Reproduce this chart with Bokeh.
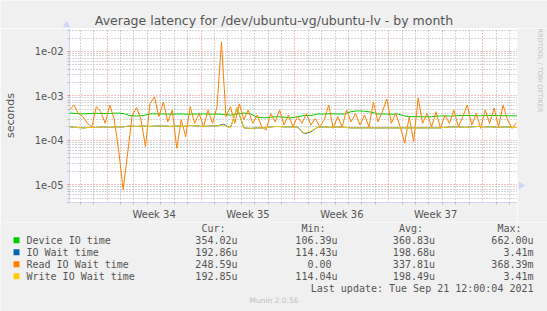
from math import pi
from bokeh.plotting import figure
from bokeh.models import FixedTicker, Range1d
from bokeh.layouts import column, row
from bokeh.core.properties import value
from bokeh.embed import file_html
from bokeh.resources import INLINE

# ---------------- data ----------------
# time axis in days, relative to Monday 2021-08-23 (start of week 34)
T_START = -2.81
T_END = 30.6
FAST_STEP = 1 / 3     # read IO wait samples (8 h)
SLOW_STEP = 0.5       # other series (12 h)

read_io = [4.8e-4, 6.2e-4, 4.0e-4, 3.4e-4, 2.4e-4, 2.0e-4, 5.7e-4, 4.4e-4, 2.4e-4, 6.2e-4,
           3.0e-4, 6.0e-5, 7.8e-6, 5.0e-5, 3.5e-4, 5.5e-4, 2.9e-4, 7.2e-5, 6.6e-4, 9.5e-4,
           3.4e-4, 7.3e-4, 2.6e-4, 4.8e-4, 6.6e-5, 2.9e-4, 1.2e-4, 5.7e-4, 2.4e-4, 4.0e-4,
           2.0e-4, 4.8e-4, 2.4e-4, 5.7e-4, 1.6e-2, 3.4e-4, 5.7e-4, 2.4e-4, 6.6e-4, 2.9e-4,
           4.8e-4, 2.4e-4, 3.7e-4, 2.0e-4, 1.7e-4, 4.0e-4, 2.6e-4, 4.8e-4, 2.2e-4, 3.7e-4,
           2.0e-4, 3.4e-4, 2.4e-4, 4.0e-4, 2.2e-4, 3.1e-4, 2.0e-4, 2.9e-4, 6.2e-4, 1.85e-4,
           3.4e-4, 2.0e-4, 4.8e-4, 2.6e-4, 4.0e-4, 2.2e-4, 3.7e-4, 2.0e-4, 7.3e-4, 2.6e-4,
           4.4e-4, 8.5e-4, 2.4e-4, 4.0e-4, 2.0e-4, 8.6e-5, 3.4e-4, 9.4e-5, 9.0e-4, 2.4e-4,
           4.0e-4, 2.0e-4, 4.4e-4, 1.85e-4, 3.7e-4, 2.4e-4, 4.8e-4, 2.0e-4, 3.4e-4, 6.2e-4,
           2.2e-4, 4.0e-4, 1.85e-4, 4.8e-4, 2.4e-4, 5.3e-4, 2.0e-4, 6.2e-4, 2.9e-4, 1.85e-4,
           2.5e-4]

device_io = [4.1e-4, 4.0e-4, 3.9e-4, 4.0e-4, 4.05e-4, 4.0e-4, 4.0e-4, 4.1e-4, 4.0e-4, 3.6e-4,
             3.5e-4, 3.6e-4, 3.9e-4, 3.95e-4, 3.9e-4, 3.85e-4, 3.9e-4, 3.9e-4, 3.85e-4, 3.9e-4,
             3.9e-4, 3.85e-4, 3.9e-4, 3.8e-4, 3.7e-4, 3.9e-4, 4.1e-4, 3.9e-4, 3.3e-4, 3.2e-4,
             3.3e-4, 3.4e-4, 3.3e-4, 3.2e-4, 3.4e-4, 3.6e-4, 3.6e-4, 3.9e-4, 3.9e-4, 3.95e-4,
             3.9e-4, 3.9e-4, 4.4e-4, 4.6e-4, 4.5e-4, 4.3e-4, 3.9e-4, 3.9e-4, 3.85e-4, 3.9e-4,
             3.5e-4, 3.4e-4, 3.4e-4, 3.35e-4, 3.4e-4, 3.5e-4, 3.55e-4, 3.5e-4, 3.6e-4, 3.6e-4,
             3.6e-4, 3.55e-4, 3.6e-4, 3.6e-4, 3.6e-4, 3.55e-4, 3.55e-4, 3.54e-4]

io_wait = [2.0e-4, 1.95e-4, 1.9e-4, 1.95e-4, 1.95e-4, 2.0e-4, 1.95e-4, 2.0e-4, 2.0e-4, 2.1e-4,
           2.05e-4, 2.1e-4, 2.05e-4, 2.1e-4, 2.1e-4, 2.05e-4, 2.1e-4, 2.05e-4, 2.15e-4, 2.1e-4,
           2.05e-4, 2.1e-4, 2.1e-4, 2.3e-4, 1.9e-4, 5.4e-4, 1.9e-4, 1.85e-4, 1.9e-4, 1.9e-4,
           2.0e-4, 2.05e-4, 2.0e-4, 2.0e-4, 2.0e-4, 1.4e-4, 1.55e-4, 1.95e-4, 2.0e-4, 1.95e-4,
           2.0e-4, 1.95e-4, 1.9e-4, 1.9e-4, 1.9e-4, 1.9e-4, 1.9e-4, 1.9e-4, 1.9e-4, 1.9e-4,
           1.9e-4, 1.9e-4, 1.9e-4, 1.9e-4, 1.9e-4, 1.9e-4, 1.95e-4, 2.0e-4, 2.0e-4, 1.95e-4,
           2.0e-4, 2.05e-4, 2.0e-4, 2.0e-4, 1.95e-4, 2.0e-4, 1.95e-4, 1.93e-4]

write_io = [2.0e-4, 1.95e-4, 1.9e-4, 1.95e-4, 1.95e-4, 2.0e-4, 1.95e-4, 2.0e-4, 2.0e-4, 2.1e-4,
            2.05e-4, 2.1e-4, 2.05e-4, 2.1e-4, 2.1e-4, 2.05e-4, 2.1e-4, 2.05e-4, 2.15e-4, 2.1e-4,
            2.05e-4, 2.1e-4, 2.1e-4, 2.2e-4, 1.9e-4, 5.5e-4, 1.9e-4, 1.85e-4, 1.9e-4, 1.9e-4,
            2.0e-4, 2.05e-4, 2.0e-4, 2.0e-4, 2.0e-4, 1.45e-4, 1.6e-4, 1.95e-4, 2.0e-4, 1.95e-4,
            2.0e-4, 1.95e-4, 1.9e-4, 1.9e-4, 1.9e-4, 1.9e-4, 1.9e-4, 1.9e-4, 1.9e-4, 1.9e-4,
            1.9e-4, 1.9e-4, 1.9e-4, 1.9e-4, 1.9e-4, 1.9e-4, 1.95e-4, 2.0e-4, 2.0e-4, 1.95e-4,
            2.0e-4, 2.05e-4, 2.0e-4, 2.0e-4, 1.95e-4, 2.0e-4, 1.95e-4, 1.93e-4]

series_names = ["Device IO time", "IO Wait time", "Read IO Wait time", "Write IO Wait time"]
series_colors = ["#00CC00", "#0066B3", "#FF8000", "#FFCC00"]
cur_vals = ["354.02u", "192.86u", "248.59u", "192.85u"]
min_vals = ["106.39u", "114.43u", "0.00", "114.04u"]
avg_vals = ["360.83u", "198.68u", "337.81u", "198.49u"]
max_vals = ["662.00u", "3.41m", "368.39m", "3.41m"]
col_headers = ["Cur:", "Min:", "Avg:", "Max:"]

week_starts = [0, 7, 14, 21, 28]
week_centers = [3.5, 10.5, 17.5, 24.5]
week_labels = ["Week 34", "Week 35", "Week 36", "Week 37"]
day_ticks = [d for d in range(-2, 31) if d % 7 != 0]

y_major = [1e-5, 1e-4, 1e-3, 1e-2]
y_major_labels = ["1e-05", "1e-04", "1e-03", "1e-02"]
y_minor = [m * 10.0 ** e for e in range(-6, -1) for m in range(2, 10)]

title_text = "Average latency for /dev/ubuntu-vg/ubuntu-lv - by month"
unit_text = "seconds"
update_text = "Last update: Tue Sep 21 12:00:04 2021"
brand_text = "RRDTOOL / TOBI OETIKER"
version_text = "Munin 2.0.56"

t_fast = [T_START + i * FAST_STEP for i in range(len(read_io))]
t_slow = [T_START + j * SLOW_STEP for j in range(len(device_io))]

# ---------------- layout (canvas px) ----------------
W, H = 547, 311
FL, FR, FT, FB = 66, 517, 28, 203   # plot frame edges on the page
MID_BOTTOM = 222                    # bottom of the plot strip
FONT = "DejaVu Sans"
MONO = "DejaVu Sans Mono"
TXT = "#555555"
AXIS_C = "#CFD6F8"
BG = "#F0F0F0"
MAJOR_GRID = "#e88080"
MINOR_GRID = "#acacac"


def strip(w, h, x0, x1, y_top, y_bot):
    """A figure whose frame fills it and whose data units are page pixels."""
    f = figure(width=w, height=h, x_range=Range1d(x0, x1), y_range=Range1d(y_bot, y_top),
               x_axis_type=None, y_axis_type=None, output_backend="svg",
               toolbar_location=None, min_border_left=0, min_border_right=0,
               min_border_top=0, min_border_bottom=0)
    f.background_fill_color = BG
    f.border_fill_color = BG
    f.outline_line_color = None
    f.grid.visible = False
    return f


def txt(f, xs, ys, texts, size, font=FONT, color=TXT, align="left", angle=0.0):
    f.text(x=xs, y=ys, text=texts, text_font=value(font), text_font_size=value(size),
           text_color=color, text_align=value(align), text_baseline=value("middle"),
           angle=angle)


# ---- top strip: title + y-axis arrow ----
top = strip(W, FT, 0, W, 0, FT)
txt(top, [273.5], [19.5], [title_text], "12.5px", align="center")
top.scatter([FL], [24.5], marker="triangle", size=6, fill_color=AXIS_C, line_color=AXIS_C)

# ---- main plot ----
p = figure(width=FR, height=MID_BOTTOM - FT,
           x_range=Range1d(T_START, T_END),
           y_range=Range1d(10 ** -5.40, 10 ** -1.485),
           y_axis_type="log",
           output_backend="svg", toolbar_location=None,
           min_border_left=FL, min_border_right=0,
           min_border_top=0, min_border_bottom=MID_BOTTOM - FB)
p.border_fill_color = BG
p.background_fill_color = "#FFFFFF"
p.outline_line_color = None

xa = p.xaxis[0]
xa.ticker = FixedTicker(ticks=week_centers, minor_ticks=day_ticks)
xa.major_label_overrides = {c: l for c, l in zip(week_centers, week_labels)}
xa.major_tick_out = 0
xa.major_tick_in = 0
xa.minor_tick_out = 2
xa.minor_tick_in = 0
xa.minor_tick_line_color = "#bbbbbb"
xa.axis_line_color = AXIS_C
xa.major_label_text_font = FONT
xa.major_label_text_font_size = "10px"
xa.major_label_text_color = TXT
xa.major_label_standoff = 4

ya = p.yaxis[0]
ya.ticker = FixedTicker(ticks=y_major, minor_ticks=y_minor)
ya.major_label_overrides = {v: l for v, l in zip(y_major, y_major_labels)}
ya.major_tick_out = 2
ya.major_tick_in = 0
ya.minor_tick_out = 2
ya.minor_tick_in = 0
ya.major_tick_line_color = MAJOR_GRID
ya.minor_tick_line_color = "#bbbbbb"
ya.axis_line_color = AXIS_C
ya.major_label_text_font = FONT
ya.major_label_text_font_size = "10px"
ya.major_label_text_color = TXT
ya.major_label_standoff = 4
ya.axis_label = unit_text
ya.axis_label_text_font = FONT
ya.axis_label_text_font_size = "11px"
ya.axis_label_text_font_style = "normal"
ya.axis_label_text_color = TXT
ya.axis_label_standoff = 15

for g, tk in ((p.xgrid[0], FixedTicker(ticks=week_starts, minor_ticks=day_ticks)),
              (p.ygrid[0], FixedTicker(ticks=y_major, minor_ticks=y_minor))):
    g.ticker = tk
    g.grid_line_color = MAJOR_GRID
    g.grid_line_dash = "1 2"
    g.grid_line_width = 1
    g.minor_grid_line_color = MINOR_GRID
    g.minor_grid_line_dash = "1 2"
    g.minor_grid_line_width = 1

# series (munin draw order)
p.line(t_slow, device_io, line_color=series_colors[0], line_width=1)
p.line(t_slow, io_wait, line_color=series_colors[1], line_width=1)
p.line(t_fast, read_io, line_color=series_colors[2], line_width=1)
p.line(t_slow, write_io, line_color=series_colors[3], line_width=1)

# ---- right strip: branding + x-axis arrow ----
side = strip(W - FR, MID_BOTTOM - FT, FR, W, FT, MID_BOTTOM)
txt(side, [539.5], [FT], [brand_text], "6.5px", color="#c4c4c4", angle=-pi / 2)
side.scatter([520.5], [FB], marker="triangle", size=6, angle=-pi / 2,
             fill_color=AXIS_C, line_color=AXIS_C)

# ---- legend strip ----
leg = strip(W, H - MID_BOTTOM, 0, W, MID_BOTTOM, H)
CHAR_W = 6.02
col_ends = [237, 337, 434.5, 533]
row_y = [239.7, 251.7, 263.7, 275.7]

txt(leg, [xe - 2 * CHAR_W for xe in col_ends], [228.3] * 4, col_headers, "10px",
    font=MONO, align="right")
leg.rect(x=[16] * 4, y=row_y, width=6, height=6, fill_color=series_colors,
         line_color=None)
txt(leg, [26] * 4, row_y, series_names, "10px", font=MONO)
for vals, xe in zip((cur_vals, min_vals, avg_vals, max_vals), col_ends):
    xs = [xe - (0 if s[-1].isalpha() else CHAR_W) for s in vals]
    txt(leg, xs, row_y, vals, "10px", font=MONO, align="right")
txt(leg, [533], [287.7], [update_text], "10px", font=MONO, align="right")
txt(leg, [273.5], [300], [version_text], "7.5px", color="#c0c0c0", align="center")

layout = column(top, row(p, side, spacing=0), leg, spacing=0)
open("out.html", "w").write(file_html(layout, INLINE))
